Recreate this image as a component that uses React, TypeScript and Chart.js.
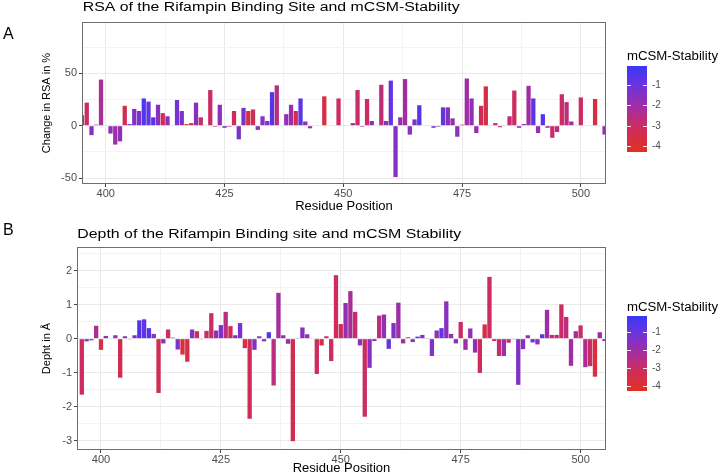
import React, { useEffect, useRef } from 'react';
import { Chart, registerables } from 'chart.js';
Chart.register(...registerables);

// ---------------- data ----------------
const residues = [
  395, 396, 397, 398, 399, 400, 401, 402, 403, 404, 405, 406, 407, 408, 409, 410, 411, 412, 413, 414,
  415, 416, 417, 418, 419, 420, 421, 422, 423, 424, 425, 426, 427, 428, 429, 430, 431, 432, 433, 434,
  435, 436, 437, 438, 439, 440, 441, 442, 443, 444, 445, 446, 447, 448, 449, 450, 451, 452, 453, 454,
  455, 456, 457, 458, 459, 460, 461, 462, 463, 464, 465, 466, 467, 468, 469, 470, 471, 472, 473, 474,
  475, 476, 477, 478, 479, 480, 481, 482, 483, 484, 485, 486, 487, 488, 489, 490, 491, 492, 493, 494,
  495, 496, 497, 498, 499, 500, 501, 502, 503, 504, 505,
];

// Change in RSA (%) per residue (panel A)
const rsaChange = [
  10, 22, -9, 1, 44, 0, -7.5, -18, -15, 19, 1.5, 16, 14, 26, 23, 8, 20, 12, 9, 0,
  24.5, 14, 1.5, 2.5, 22, 8, 0, 34, -1, 20, -2, -1, 14, -13, 17, 14, 15.5, -4, 9, 4.5,
  32, 38.5, 0, 11, 20, 14, 26, 4, -2.5, 0, 0, 28, 0, 0, 26, 0.5, -0.5, 2.5, 34, -1,
  25.5, 4.5, 0, 39, 4.5, 43, -49, 8, 44.5, -8.5, 6, 19.5, 0, 0, -2, -1, 17.5, 17.5, 7, -10.5,
  1, 45, 26, -7, 19, 37.5, 0, 2.5, -1.5, 0, 9, 33.5, -2, 1.5, 38, 26, -7, 11, -2, -11.5,
  -6, 30, 22.5, 4, 0.5, 27, 0.5, 0.5, 25.5, 0, -8.5,
];

// Change in depth (Å) per residue (panel B)
const depthChange = [
  0, -1.65, -0.08, -0.05, 0.38, -0.33, 0.08, 0, 0.1, -1.15, 0.07, -0.02, 0.1, 0.54, 0.57, 0.31, 0.14, -1.6, -0.14, 0.27,
  0.03, -0.32, -0.47, -0.68, 0.27, 0.22, -0.02, 0.23, 0.75, 0.24, 0.4, 0.79, 0.37, 0.1, 0.46, -0.28, -2.36, -0.33, 0.07, -0.08,
  0.19, -1.38, 1.35, 0.1, -0.15, -3.02, 0.02, 0.33, 0.13, 0, -1.04, -0.2, 0.07, -0.66, 1.87, 0.43, 1.05, 1.4, 0.79, -0.2,
  -2.3, -0.86, -0.07, 0.68, 0.71, -0.3, 0.46, 1.06, -0.14, 0.04, -0.1, 0.06, 0.11, 0.01, -0.51, 0.24, 0.31, 1.1, 0.14, -0.14,
  0.49, -0.33, 0.3, -0.41, -1.01, 0.42, 1.82, -0.07, -0.51, -0.51, -0.12, -0.02, -1.36, -0.31, 0.1, -0.11, -0.17, 0.13, 0.85, 0.11,
  0.11, 1.01, 0.64, -0.8, 0.22, 0.39, -0.84, -0.81, -1.12, 0.19, -0.07,
];

// mCSM stability per residue (fill colour)
const mcsmStability = [
  -2.0, -3.1, -1.6, -1.4, -2.3, -3.6, -1.7, -2.0, -1.7, -3.3, -1.3, -1.5, -1.4, -0.5, -0.9, -0.6, -1.6, -3.3, -1.6, -3.2,
  -1.2, -1.4, -3.7, -3.5, -1.6, -3.0, -1.5, -3.0, -3.0, -1.7, -1.4, -2.6, -3.2, -1.3, -1.3, -3.6, -3.2, -1.5, -1.6, -1.5,
  -0.6, -2.6, -2.1, -1.8, -2.0, -3.3, -0.7, -1.6, -1.8, -2.0, -3.1, -3.6, -3.1, -3.1, -3.1, -3.2, -1.8, -2.2, -2.9, -1.7,
  -3.0, -1.6, -1.8, -2.7, -1.8, -0.9, -1.5, -2.0, -2.1, -1.6, -1.5, -0.6, -1.6, -1.6, -1.4, -1.7, -0.9, -1.6, -1.8, -1.7,
  -3.0, -2.0, -1.8, -1.8, -3.2, -3.5, -3.0, -3.0, -2.8, -2.0, -2.8, -3.1, -1.5, -1.6, -2.0, -0.7, -1.8, -0.7, -2.0, -3.0,
  -2.6, -3.0, -2.6, -2.0, -2.2, -3.0, -2.3, -3.0, -3.7, -2.0, -1.8,
];

const xTickValues = [400, 412.5, 425, 437.5, 450, 462.5, 475, 487.5, 500];
const rsaTickValues = [-50, -25, 0, 25, 50, 75];
const depthTickValues = [-3, -2.5, -2, -1.5, -1, -0.5, 0, 0.5, 1, 1.5, 2, 2.5];
const legendTickValues = [-1, -2, -3, -4];
const STAB_MIN = -4.27;
const STAB_MAX = -0.1;

// ---------------- styling ----------------
const FAMILY = '"Liberation Sans", Arial, Helvetica, sans-serif';

const colourStops: [number, [number, number, number]][] = [
  [-4.27, [226, 48, 30]],
  [-3, [204, 44, 100]],
  [-2, [158, 46, 168]],
  [-1, [106, 52, 222]],
  [-0.1, [56, 56, 246]],
];

function stabColour(v: number): string {
  if (v <= colourStops[0][0]) return rgb(colourStops[0][1]);
  for (let i = 1; i < colourStops.length; i++) {
    const [v1, c1] = colourStops[i];
    const [v0, c0] = colourStops[i - 1];
    if (v <= v1) {
      const t = (v - v0) / (v1 - v0);
      return rgb([c0[0] + (c1[0] - c0[0]) * t, c0[1] + (c1[1] - c0[1]) * t, c0[2] + (c1[2] - c0[2]) * t]);
    }
  }
  return rgb(colourStops[colourStops.length - 1][1]);
}
function rgb(c: number[]) {
  return `rgb(${Math.round(c[0])},${Math.round(c[1])},${Math.round(c[2])})`;
}

type PanelCfg = {
  values: number[];
  yMin: number;
  yMax: number;
  yTicks: number[];
  yMajor: (v: number) => boolean;
  yTitle: string;
  padLeft: number;
  area: { left: number; top: number; right: number; bottom: number };
  height: number;
  letter: string;
  letterY: number;
  title: string;
  titleX: number;
  titleY: number;
  titleW: number;
  legTitleY: number;
  legTop: number;
  legBottom: number;
};

const panelA: PanelCfg = {
  values: rsaChange,
  yMin: -55.6,
  yMax: 98.9,
  yTicks: rsaTickValues,
  yMajor: (v) => Math.abs(v % 50) < 1e-6,
  yTitle: 'Change in RSA in %',
  padLeft: 40,
  area: { left: 82, top: 22, right: 606, bottom: 184 },
  height: 214,
  letter: 'A',
  letterY: 35,
  title: 'RSA of the Rifampin Binding Site and mCSM-Stability',
  titleX: 82.7,
  titleY: 8,
  titleW: 377,
  legTitleY: 57,
  legTop: 66,
  legBottom: 152,
};

const panelB: PanelCfg = {
  values: depthChange,
  yMin: -3.28,
  yMax: 2.7,
  yTicks: depthTickValues,
  yMajor: (v) => Math.abs(v - Math.round(v)) < 1e-6,
  yTitle: 'Depht in Å',
  padLeft: 40.5,
  area: { left: 77, top: 33, right: 606, bottom: 236 },
  height: 262,
  letter: 'B',
  letterY: 17,
  title: 'Depth of the Rifampin Binding site and mCSM Stability',
  titleX: 77.3,
  titleY: 21,
  titleW: 384,
  legTitleY: 94,
  legTop: 102,
  legBottom: 177,
};

function stretchedText(ctx: CanvasRenderingContext2D, text: string, x: number, y: number, size: number, width: number | null, color: string) {
  ctx.save();
  ctx.font = `${size}px ${FAMILY}`;
  ctx.fillStyle = color;
  ctx.textBaseline = 'middle';
  ctx.textAlign = 'left';
  const w = ctx.measureText(text).width;
  const sx = width ? width / w : 1;
  ctx.translate(x, y);
  ctx.scale(sx, 1);
  ctx.fillText(text, 0, 0);
  ctx.restore();
}

function buildChart(canvas: HTMLCanvasElement, cfg: PanelCfg) {
  const xMajor = (v: number) => Math.abs(v % 25) < 1e-6;
  const decorPlugin = {
    id: 'decor' + cfg.letter,
    afterDatasetsDraw(chart: any) {
      const { ctx, chartArea } = chart;
      ctx.save();
      ctx.strokeStyle = '#6e6e6e';
      ctx.lineWidth = 1;
      ctx.strokeRect(chartArea.left + 0.5, chartArea.top + 0.5, chartArea.right - chartArea.left - 1, chartArea.bottom - chartArea.top - 1);
      ctx.restore();
    },
    afterDraw(chart: any) {
      const ctx: CanvasRenderingContext2D = chart.ctx;
      // panel letter and title
      stretchedText(ctx, cfg.letter, 3, cfg.letterY, 16, null, '#000');
      stretchedText(ctx, cfg.title, cfg.titleX, cfg.titleY, 12.5, cfg.titleW, '#000');
      // colour bar legend
      const lx = 627;
      const lw = 20;
      stretchedText(ctx, 'mCSM-Stability', lx, cfg.legTitleY, 12, 91, '#000');
      const grad = ctx.createLinearGradient(0, cfg.legTop, 0, cfg.legBottom);
      const span = STAB_MAX - STAB_MIN;
      colourStops.forEach(([v, c]) => {
        const f = Math.min(1, Math.max(0, (STAB_MAX - v) / span));
        grad.addColorStop(f, rgb(c));
      });
      ctx.save();
      ctx.fillStyle = grad;
      ctx.fillRect(lx, cfg.legTop, lw, cfg.legBottom - cfg.legTop);
      ctx.strokeStyle = 'rgba(255,255,255,0.9)';
      ctx.lineWidth = 1;
      legendTickValues.forEach((v) => {
        const y = Math.round(cfg.legTop + ((STAB_MAX - v) / span) * (cfg.legBottom - cfg.legTop)) + 0.5;
        ctx.beginPath();
        ctx.moveTo(lx, y);
        ctx.lineTo(lx + 4, y);
        ctx.moveTo(lx + lw - 4, y);
        ctx.lineTo(lx + lw, y);
        ctx.stroke();
        stretchedText(ctx, String(v), lx + 25, y, 10, null, '#4d4d4d');
      });
      ctx.restore();
    },
  };

  return new Chart(canvas, {
    type: 'bar',
    data: {
      datasets: [
        {
          data: residues.map((r, i) => ({ x: r, y: cfg.values[i] })),
          backgroundColor: mcsmStability.map(stabColour),
          borderWidth: 0,
          barPercentage: 0.9,
          categoryPercentage: 1,
        } as any,
      ],
    },
    options: {
      responsive: false,
      animation: false,
      layout: { padding: { left: cfg.padLeft, top: cfg.area.top, right: 720 - cfg.area.right, bottom: 0 } },
      plugins: { legend: { display: false }, tooltip: { enabled: false } },
      scales: {
        x: {
          type: 'linear',
          min: 395,
          max: 505.3,
          offset: false,
          afterBuildTicks: (s: any) => {
            s.ticks = xTickValues.map((v) => ({ value: v }));
          },
          afterFit: (s: any) => {
            s.height = cfg.height - cfg.area.bottom;
          },
          grid: {
            offset: false,
            color: (c: any) => (xMajor(c.tick?.value ?? 0) ? '#e9e9e9' : '#f3f3f3'),
            lineWidth: 1,
            tickColor: (c: any) => (xMajor(c.tick?.value ?? 0) ? '#444' : 'rgba(0,0,0,0)'),
            tickLength: 3,
            tickWidth: 1,
          },
          border: { display: false },
          ticks: {
            autoSkip: false,
            maxRotation: 0,
            padding: 0,
            color: '#4d4d4d',
            font: { size: 11, family: FAMILY },
            callback: (v: any) => (xMajor(Number(v)) ? String(v) : ''),
          },
          title: {
            display: true,
            text: 'Residue Position',
            color: '#000',
            padding: 0,
            font: { size: 13, family: FAMILY },
          },
        },
        y: {
          type: 'linear',
          min: cfg.yMin,
          max: cfg.yMax,
          afterBuildTicks: (s: any) => {
            s.ticks = cfg.yTicks.map((v) => ({ value: v }));
          },
          afterFit: (s: any) => {
            s.width = cfg.area.left - cfg.padLeft;
          },
          grid: {
            color: (c: any) => (cfg.yMajor(c.tick?.value ?? 0) ? '#e9e9e9' : '#f3f3f3'),
            lineWidth: 1,
            tickColor: (c: any) => (cfg.yMajor(c.tick?.value ?? 0) ? '#444' : 'rgba(0,0,0,0)'),
            tickLength: 3,
            tickWidth: 1,
          },
          border: { display: false },
          ticks: {
            autoSkip: false,
            padding: 2,
            color: '#4d4d4d',
            font: { size: 11, family: FAMILY },
            callback: (v: any) => (cfg.yMajor(Number(v)) ? String(v) : ''),
          },
          title: {
            display: true,
            text: cfg.yTitle,
            color: '#000',
            padding: 0,
            font: { size: 11, family: FAMILY },
          },
        },
      },
    } as any,
    plugins: [decorPlugin],
  });
}

export default function App() {
  const refA = useRef<HTMLCanvasElement>(null);
  const refB = useRef<HTMLCanvasElement>(null);
  useEffect(() => {
    const a = buildChart(refA.current!, panelA);
    const b = buildChart(refB.current!, panelB);
    return () => {
      a.destroy();
      b.destroy();
    };
  }, []);
  return (
    <div style={{ position: 'absolute', left: 0, top: 0, width: 720, height: 474, overflow: 'hidden', background: '#fff' }}>
      <canvas ref={refA} width={720} height={panelA.height} style={{ position: 'absolute', left: 0, top: 0, width: 720, height: panelA.height }} />
      <canvas ref={refB} width={720} height={panelB.height} style={{ position: 'absolute', left: 0, top: 214, width: 720, height: panelB.height }} />
    </div>
  );
}
